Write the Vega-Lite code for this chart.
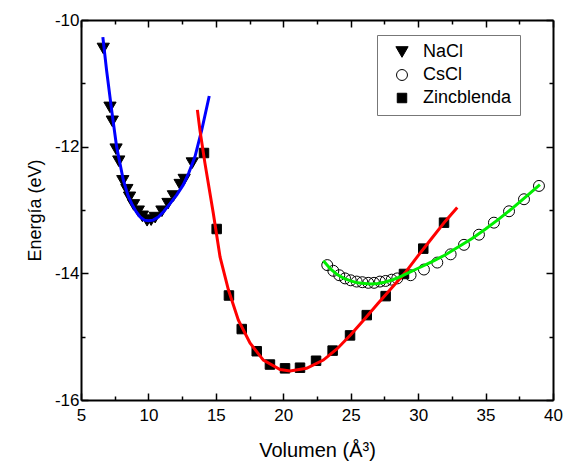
{
  "$schema": "https://vega.github.io/schema/vega-lite/v6.json",
  "width": 472,
  "height": 380,
  "autosize": {"type": "none"},
  "padding": {"left": 81, "top": 20, "right": 13, "bottom": 70},
  "background": "white",
  "config": {
    "view": {"stroke": null},
    "font": "Liberation Sans",
    "axis": {
      "grid": false,
      "domainColor": "black",
      "domainWidth": 2,
      "tickColor": "black",
      "tickWidth": 1.5,
      "labelFont": "Liberation Sans",
      "labelFontSize": 17,
      "labelColor": "black",
      "labelFlush": false,
      "labelOverlap": false,
      "labelBound": false,
      "titleFont": "Liberation Sans",
      "titleFontWeight": "normal",
      "titleColor": "black"
    }
  },
  "datasets": {
    "puntos": [
      {"estructura": "NaCl", "volumen": 6.65, "energia": -10.45},
      {"estructura": "NaCl", "volumen": 7.15, "energia": -11.38},
      {"estructura": "NaCl", "volumen": 7.32, "energia": -11.6},
      {"estructura": "NaCl", "volumen": 7.6, "energia": -12.04},
      {"estructura": "NaCl", "volumen": 7.8, "energia": -12.23},
      {"estructura": "NaCl", "volumen": 8.1, "energia": -12.54},
      {"estructura": "NaCl", "volumen": 8.4, "energia": -12.68},
      {"estructura": "NaCl", "volumen": 8.6, "energia": -12.8},
      {"estructura": "NaCl", "volumen": 8.9, "energia": -12.92},
      {"estructura": "NaCl", "volumen": 9.25, "energia": -13.02},
      {"estructura": "NaCl", "volumen": 9.55, "energia": -13.1},
      {"estructura": "NaCl", "volumen": 9.9, "energia": -13.17},
      {"estructura": "NaCl", "volumen": 10.2, "energia": -13.16},
      {"estructura": "NaCl", "volumen": 10.5, "energia": -13.12},
      {"estructura": "NaCl", "volumen": 11.0, "energia": -13.02},
      {"estructura": "NaCl", "volumen": 11.45, "energia": -12.9},
      {"estructura": "NaCl", "volumen": 11.85, "energia": -12.78},
      {"estructura": "NaCl", "volumen": 12.35, "energia": -12.6},
      {"estructura": "NaCl", "volumen": 12.65, "energia": -12.52},
      {"estructura": "NaCl", "volumen": 13.25, "energia": -12.26},
      {"estructura": "CsCl", "volumen": 23.26, "energia": -13.87},
      {"estructura": "CsCl", "volumen": 23.71, "energia": -13.96},
      {"estructura": "CsCl", "volumen": 24.15, "energia": -14.03},
      {"estructura": "CsCl", "volumen": 24.58, "energia": -14.08},
      {"estructura": "CsCl", "volumen": 25.0, "energia": -14.11},
      {"estructura": "CsCl", "volumen": 25.44, "energia": -14.13},
      {"estructura": "CsCl", "volumen": 25.86, "energia": -14.14},
      {"estructura": "CsCl", "volumen": 26.3, "energia": -14.15},
      {"estructura": "CsCl", "volumen": 26.73, "energia": -14.15},
      {"estructura": "CsCl", "volumen": 27.17, "energia": -14.13},
      {"estructura": "CsCl", "volumen": 27.59, "energia": -14.12},
      {"estructura": "CsCl", "volumen": 28.04, "energia": -14.1},
      {"estructura": "CsCl", "volumen": 28.45, "energia": -14.08},
      {"estructura": "CsCl", "volumen": 29.44, "energia": -14.03},
      {"estructura": "CsCl", "volumen": 30.43, "energia": -13.94},
      {"estructura": "CsCl", "volumen": 31.42, "energia": -13.83},
      {"estructura": "CsCl", "volumen": 32.41, "energia": -13.7},
      {"estructura": "CsCl", "volumen": 33.4, "energia": -13.55},
      {"estructura": "CsCl", "volumen": 34.51, "energia": -13.39},
      {"estructura": "CsCl", "volumen": 35.62, "energia": -13.2},
      {"estructura": "CsCl", "volumen": 36.74, "energia": -13.02},
      {"estructura": "CsCl", "volumen": 37.85, "energia": -12.83},
      {"estructura": "CsCl", "volumen": 38.96, "energia": -12.62},
      {"estructura": "Zincblenda", "volumen": 14.12, "energia": -12.1},
      {"estructura": "Zincblenda", "volumen": 15.06, "energia": -13.3},
      {"estructura": "Zincblenda", "volumen": 15.97, "energia": -14.35},
      {"estructura": "Zincblenda", "volumen": 16.92, "energia": -14.88},
      {"estructura": "Zincblenda", "volumen": 18.03, "energia": -15.23},
      {"estructura": "Zincblenda", "volumen": 19.01, "energia": -15.44},
      {"estructura": "Zincblenda", "volumen": 20.13, "energia": -15.5},
      {"estructura": "Zincblenda", "volumen": 21.24, "energia": -15.49},
      {"estructura": "Zincblenda", "volumen": 22.43, "energia": -15.38},
      {"estructura": "Zincblenda", "volumen": 23.66, "energia": -15.22},
      {"estructura": "Zincblenda", "volumen": 24.95, "energia": -14.98},
      {"estructura": "Zincblenda", "volumen": 26.19, "energia": -14.66},
      {"estructura": "Zincblenda", "volumen": 27.59, "energia": -14.36},
      {"estructura": "Zincblenda", "volumen": 28.95, "energia": -14.01},
      {"estructura": "Zincblenda", "volumen": 30.38, "energia": -13.61},
      {"estructura": "Zincblenda", "volumen": 31.92, "energia": -13.2}
    ],
    "ajuste": [
      {"serie": "NaCl", "volumen": 6.62, "energia": -10.27},
      {"serie": "NaCl", "volumen": 6.9, "energia": -10.8},
      {"serie": "NaCl", "volumen": 7.27, "energia": -11.42},
      {"serie": "NaCl", "volumen": 7.64, "energia": -12.0},
      {"serie": "NaCl", "volumen": 8.14, "energia": -12.53},
      {"serie": "NaCl", "volumen": 8.5, "energia": -12.78},
      {"serie": "NaCl", "volumen": 8.76, "energia": -12.9},
      {"serie": "NaCl", "volumen": 9.1, "energia": -13.03},
      {"serie": "NaCl", "volumen": 9.38, "energia": -13.11},
      {"serie": "NaCl", "volumen": 9.7, "energia": -13.16},
      {"serie": "NaCl", "volumen": 10.0, "energia": -13.17},
      {"serie": "NaCl", "volumen": 10.35, "energia": -13.16},
      {"serie": "NaCl", "volumen": 10.73, "energia": -13.11},
      {"serie": "NaCl", "volumen": 11.15, "energia": -13.02},
      {"serie": "NaCl", "volumen": 11.6, "energia": -12.9},
      {"serie": "NaCl", "volumen": 12.1, "energia": -12.76},
      {"serie": "NaCl", "volumen": 12.59, "energia": -12.6},
      {"serie": "NaCl", "volumen": 13.0, "energia": -12.41},
      {"serie": "NaCl", "volumen": 13.45, "energia": -12.16},
      {"serie": "NaCl", "volumen": 13.95, "energia": -11.74},
      {"serie": "NaCl", "volumen": 14.51, "energia": -11.2},
      {"serie": "Zincblenda", "volumen": 13.63, "energia": -11.42},
      {"serie": "Zincblenda", "volumen": 13.82, "energia": -11.74},
      {"serie": "Zincblenda", "volumen": 14.19, "energia": -12.26},
      {"serie": "Zincblenda", "volumen": 14.81, "energia": -13.05},
      {"serie": "Zincblenda", "volumen": 15.31, "energia": -13.74},
      {"serie": "Zincblenda", "volumen": 15.93, "energia": -14.26},
      {"serie": "Zincblenda", "volumen": 16.67, "energia": -14.74},
      {"serie": "Zincblenda", "volumen": 17.53, "energia": -15.1},
      {"serie": "Zincblenda", "volumen": 18.52, "energia": -15.37},
      {"serie": "Zincblenda", "volumen": 19.76, "energia": -15.52},
      {"serie": "Zincblenda", "volumen": 20.5, "energia": -15.54},
      {"serie": "Zincblenda", "volumen": 21.73, "energia": -15.5},
      {"serie": "Zincblenda", "volumen": 22.97, "energia": -15.37},
      {"serie": "Zincblenda", "volumen": 24.0, "energia": -15.19},
      {"serie": "Zincblenda", "volumen": 25.0, "energia": -14.97},
      {"serie": "Zincblenda", "volumen": 26.0, "energia": -14.73},
      {"serie": "Zincblenda", "volumen": 27.0, "energia": -14.48},
      {"serie": "Zincblenda", "volumen": 28.0, "energia": -14.24},
      {"serie": "Zincblenda", "volumen": 29.0, "energia": -14.0},
      {"serie": "Zincblenda", "volumen": 30.0, "energia": -13.72},
      {"serie": "Zincblenda", "volumen": 31.0, "energia": -13.45},
      {"serie": "Zincblenda", "volumen": 32.0, "energia": -13.18},
      {"serie": "Zincblenda", "volumen": 32.9, "energia": -12.96},
      {"serie": "CsCl", "volumen": 22.97, "energia": -13.8},
      {"serie": "CsCl", "volumen": 23.5, "energia": -13.93},
      {"serie": "CsCl", "volumen": 24.0, "energia": -14.02},
      {"serie": "CsCl", "volumen": 24.5, "energia": -14.08},
      {"serie": "CsCl", "volumen": 25.0, "energia": -14.12},
      {"serie": "CsCl", "volumen": 25.5, "energia": -14.15},
      {"serie": "CsCl", "volumen": 26.0, "energia": -14.16},
      {"serie": "CsCl", "volumen": 26.5, "energia": -14.17},
      {"serie": "CsCl", "volumen": 27.0, "energia": -14.16},
      {"serie": "CsCl", "volumen": 27.5, "energia": -14.14},
      {"serie": "CsCl", "volumen": 28.0, "energia": -14.11},
      {"serie": "CsCl", "volumen": 28.5, "energia": -14.07},
      {"serie": "CsCl", "volumen": 29.0, "energia": -14.02},
      {"serie": "CsCl", "volumen": 29.5, "energia": -13.97},
      {"serie": "CsCl", "volumen": 30.0, "energia": -13.92},
      {"serie": "CsCl", "volumen": 31.0, "energia": -13.82},
      {"serie": "CsCl", "volumen": 32.0, "energia": -13.71},
      {"serie": "CsCl", "volumen": 33.0, "energia": -13.58},
      {"serie": "CsCl", "volumen": 34.0, "energia": -13.45},
      {"serie": "CsCl", "volumen": 35.0, "energia": -13.3},
      {"serie": "CsCl", "volumen": 36.0, "energia": -13.14},
      {"serie": "CsCl", "volumen": 37.0, "energia": -12.97},
      {"serie": "CsCl", "volumen": 38.0, "energia": -12.79},
      {"serie": "CsCl", "volumen": 39.03, "energia": -12.6}
    ]
  },
  "layer": [
    {
      "data": {"name": "puntos"},
      "mark": {"type": "point", "filled": true, "stroke": "black", "strokeWidth": 1, "opacity": 1},
      "encoding": {
        "x": {
          "field": "volumen", "type": "quantitative",
          "scale": {"domain": [5, 40], "nice": false, "zero": false},
          "axis": {
            "orient": "top", "title": null, "labels": false,
            "values": [5, 7.5, 10, 12.5, 15, 17.5, 20, 22.5, 25, 27.5, 30, 32.5, 35, 37.5, 40],
            "tickSize": {"condition": {"test": "datum.value % 5 === 0", "value": -7}, "value": -4}
          }
        },
        "y": {
          "field": "energia", "type": "quantitative",
          "scale": {"domain": [-16, -10], "nice": false, "zero": false},
          "axis": {
            "orient": "right", "title": null, "labels": false,
            "values": [-16, -15, -14, -13, -12, -11, -10],
            "tickSize": {"condition": {"test": "datum.value % 2 === 0", "value": -7}, "value": -4}
          }
        },
        "shape": {
          "field": "estructura", "type": "nominal",
          "scale": {"domain": ["NaCl", "CsCl", "Zincblenda"], "range": ["triangle-down", "circle", "square"]},
          "legend": {
            "title": null, "orient": "none", "legendX": 296, "legendY": 15,
            "strokeColor": "#777777", "fillColor": "white", "padding": 8,
            "rowPadding": 5, "symbolOffset": 8, "labelOffset": 12,
            "labelFont": "Liberation Sans", "labelFontSize": 18, "labelColor": "black",
            "symbolStrokeColor": "black", "symbolStrokeWidth": 1
          }
        },
        "fill": {
          "field": "estructura", "type": "nominal",
          "scale": {"domain": ["NaCl", "CsCl", "Zincblenda"], "range": ["black", "transparent", "black"]}
        },
        "size": {
          "field": "estructura", "type": "nominal",
          "scale": {"domain": ["NaCl", "CsCl", "Zincblenda"], "range": [150, 90, 75]}
        }
      }
    },
    {
      "data": {"name": "ajuste"},
      "mark": {"type": "line", "strokeWidth": 3},
      "encoding": {
        "x": {
          "field": "volumen", "type": "quantitative",
          "axis": {
            "orient": "bottom", "title": "Volumen (Å³)", "titleFontSize": 20, "titlePadding": 14,
            "values": [5, 7.5, 10, 12.5, 15, 17.5, 20, 22.5, 25, 27.5, 30, 32.5, 35, 37.5, 40],
            "labelExpr": "datum.value % 5 === 0 ? datum.label : ''",
            "labelPadding": 14,
            "tickSize": {"condition": {"test": "datum.value % 5 === 0", "value": -7}, "value": -4}
          }
        },
        "y": {
          "field": "energia", "type": "quantitative",
          "axis": {
            "orient": "left", "title": "Energía (eV)", "titleFontSize": 18, "titlePadding": 10,
            "values": [-16, -15, -14, -13, -12, -11, -10],
            "labelExpr": "datum.value % 2 === 0 ? '-' + abs(datum.value) : ''",
            "labelPadding": 9,
            "tickSize": {"condition": {"test": "datum.value % 2 === 0", "value": -7}, "value": -4}
          }
        },
        "color": {
          "field": "serie", "type": "nominal",
          "scale": {"domain": ["NaCl", "Zincblenda", "CsCl"], "range": ["#0000ff", "#ff0000", "#00ee00"]},
          "legend": null
        }
      }
    }
  ],
  "resolve": {"axis": {"x": "independent", "y": "independent"}}
}
